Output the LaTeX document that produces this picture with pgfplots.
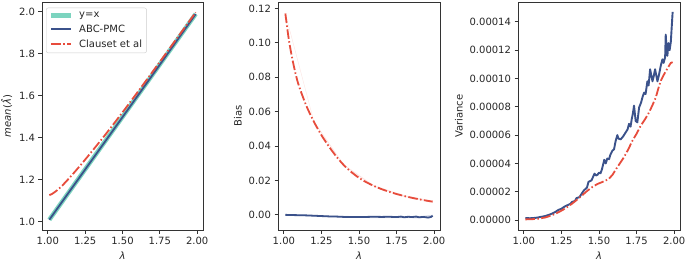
\documentclass[border=0pt]{standalone}
\usepackage{fontspec}
\setmainfont{DejaVu Sans}
\usepackage{pgfplots}
\usepackage{pgfplotstable}
\pgfplotsset{compat=1.18}
\definecolor{tealx}{RGB}{102,205,180}
\definecolor{abc}{RGB}{59,82,139}
\definecolor{cls}{RGB}{231,76,60}
\pgfplotsset{
 base/.style={
  scale only axis, width=161pt, height=228pt,
  font=\fontsize{10}{12}\selectfont,
  /pgf/number format/assume math mode=true,
  axis line style={black!80, line width=0.8pt},
  every tick/.style={black!80, line width=0.8pt},
  major tick length=3.5pt,
  tick align=outside,
  xtick pos=bottom, ytick pos=left,
  xmin=0.961, xmax=2.039,
  xtick={1,1.25,1.5,1.75,2},
  xticklabel style={/pgf/number format/fixed, /pgf/number format/fixed zerofill, /pgf/number format/precision=2},
  scaled x ticks=false, scaled y ticks=false,
  xlabel={\itshape λ},
  ticklabel style={text=black!85},
  label style={text=black!85},
 },
 dd/.style={cls, line width=1.8pt, dash pattern=on 9.6pt off 2.4pt on 1.5pt off 2.4pt},
 bl/.style={abc, line width=1.8pt, line join=round},
}
\pgfplotstableread{
lam bias
1.01 0.1170
1.03 0.1037
1.05 0.0934
1.075 0.0831
1.10 0.0750
1.15 0.0633
1.20 0.0541
1.25 0.0463
1.30 0.0397
1.35 0.0338
1.40 0.0288
1.45 0.0248
1.50 0.0215
1.55 0.0189
1.60 0.01674
1.65 0.01496
1.70 0.01343
1.75 0.01212
1.80 0.01097
1.85 0.00995
1.90 0.00905
1.95 0.00825
1.99 0.00768
}\clauset
\begin{document}
\begin{tikzpicture}
\useasboundingbox (0,0) rectangle (685pt,260pt);
% ---------- Panel 1
\begin{axis}[base, at={(42pt,30pt)}, anchor=south west,
  ymin=0.961, ymax=2.047,
  ytick={1,1.2,1.4,1.6,1.8,2},
  yticklabel style={/pgf/number format/fixed, /pgf/number format/fixed zerofill, /pgf/number format/precision=1},
  ylabel={\itshape mean\upshape(\itshape\^{λ}\upshape)},
  legend style={at={(0.025,0.975)}, anchor=north west, draw=black!20, rounded corners=2pt,
    fill=white, fill opacity=0.8, text opacity=1, font=\fontsize{10}{12}\selectfont,
    inner xsep=3pt, inner ysep=2.5pt, row sep=3pt, text=black!85,
    nodes={inner sep=1.5pt},
    /tikz/every odd column/.append style={column sep=4pt}},
  legend cell align=left,
  legend image code/.code={\draw[#1] (0pt,0pt) -- (20pt,0pt);},
]
\addplot[tealx, line width=4.5pt, opacity=0.85] coordinates {(1.01,1.01) (1.99,1.99)};
\addlegendentry{y=x}
\addplot[bl] coordinates {(1.01,1.01) (1.25,1.2493) (1.5,1.4987) (1.75,1.7487) (1.99,1.9895)};
\addlegendentry{ABC-PMC}
\addplot[dd, smooth, tension=0.5] table[x=lam, y expr=\thisrow{lam}+\thisrow{bias}] {\clauset};
\addlegendentry{Clauset et al}
\end{axis}
% ---------- Panel 2
\begin{axis}[base, at={(278pt,30pt)}, anchor=south west, width=162pt,
  ymin=-0.0088, ymax=0.1237,
  ytick={0,0.02,0.04,0.06,0.08,0.10,0.12},
  yticklabel style={/pgf/number format/fixed, /pgf/number format/fixed zerofill, /pgf/number format/precision=2},
  ylabel={Bias},
]
\addplot[fill=abc, draw=none, opacity=0.2] coordinates {
(1.01,0.0004) (1.25,-0.0003) (1.5,-0.0008) (1.75,-0.0007) (1.9,-0.0008) (1.99,0.0001)
(1.99,-0.0011) (1.9,-0.0020) (1.75,-0.0019) (1.5,-0.0018) (1.25,-0.0011) (1.01,-0.0004)} -- cycle;
\addplot[fill=cls, draw=none, opacity=0.15] coordinates {
(1.01,0.1175) (1.2,0.0545) (1.4,0.0292) (1.6,0.0171) (1.8,0.0114) (1.99,0.0082)
(1.99,0.0071) (1.8,0.0105) (1.6,0.0164) (1.4,0.0284) (1.2,0.0537) (1.01,0.1165)} -- cycle;
\addplot[bl] coordinates {
(1.01,0.0000) (1.05,-0.0001) (1.10,-0.0002) (1.15,-0.0003) (1.20,-0.0005) (1.25,-0.0007)
(1.30,-0.0009) (1.35,-0.0010) (1.40,-0.0012) (1.45,-0.0013) (1.50,-0.0013) (1.55,-0.0012)
(1.60,-0.0011) (1.65,-0.0012) (1.70,-0.0011) (1.75,-0.0013) (1.78,-0.0010) (1.80,-0.0014)
(1.83,-0.0011) (1.85,-0.0013) (1.88,-0.0010) (1.90,-0.0014) (1.93,-0.0012) (1.96,-0.0016)
(1.98,-0.0012) (1.99,-0.0005)};
\addplot[dd, smooth, tension=0.5] table[x=lam, y=bias] {\clauset};
\end{axis}
% ---------- Panel 3
\begin{axis}[base, at={(518pt,30pt)}, anchor=south west, width=162pt,
  ymin=-0.0000070, ymax=0.0001540,
  ytick={0,0.00002,0.00004,0.00006,0.00008,0.00010,0.00012,0.00014},
  yticklabels={0.00000,0.00002,0.00004,0.00006,0.00008,0.00010,0.00012,0.00014},
  ylabel={Variance},
]
\addplot[bl, line width=1.9pt] coordinates {
(1.01,0.0000015) (1.04,0.0000013) (1.08,0.0000016) (1.11,0.0000022) (1.14,0.0000028)
(1.17,0.0000038) (1.19,0.0000047) (1.21,0.0000058) (1.23,0.0000072) (1.25,0.0000080)
(1.27,0.0000095) (1.29,0.0000105) (1.31,0.0000115) (1.32,0.0000128) (1.34,0.0000135)
(1.35,0.0000155) (1.37,0.0000162) (1.39,0.0000195) (1.40,0.0000210) (1.42,0.0000230)
(1.43,0.0000270) (1.45,0.0000280) (1.47,0.0000328) (1.48,0.0000315) (1.49,0.0000320)
(1.50,0.0000335) (1.51,0.0000330) (1.52,0.0000360) (1.535,0.0000426) (1.545,0.0000400)
(1.555,0.0000435) (1.567,0.0000430) (1.575,0.0000460) (1.589,0.0000490) (1.60,0.0000500)
(1.611,0.0000560) (1.622,0.0000600) (1.63,0.0000575) (1.644,0.0000570) (1.66,0.0000590)
(1.678,0.0000620) (1.69,0.0000640) (1.70,0.0000680) (1.71,0.0000660) (1.718,0.0000714)
(1.725,0.0000750) (1.733,0.0000808) (1.744,0.0000700) (1.755,0.0000690) (1.767,0.0000796)
(1.78,0.0000830) (1.79,0.0000870) (1.80,0.0000900) (1.81,0.0000890) (1.822,0.0000980)
(1.83,0.0000950) (1.84,0.0001065) (1.856,0.0000980) (1.865,0.0001020) (1.873,0.0001065)
(1.889,0.0000980) (1.90,0.0001030) (1.911,0.0001090) (1.922,0.0001135) (1.93,0.0001110)
(1.94,0.0001150) (1.944,0.0001310) (1.95,0.0001200) (1.955,0.0001160) (1.962,0.0001250)
(1.97,0.0001200) (1.978,0.0001260) (1.99,0.0001470)};
\addplot[dd] coordinates {
(1.01,0.0000005) (1.05,0.0000006) (1.10,0.0000010) (1.144,0.0000019) (1.189,0.0000035)
(1.22,0.0000050) (1.256,0.0000070) (1.29,0.0000093) (1.322,0.0000117) (1.355,0.0000145)
(1.389,0.0000176) (1.42,0.0000205) (1.456,0.0000234) (1.49,0.0000255) (1.522,0.0000269)
(1.545,0.0000280) (1.567,0.0000293) (1.59,0.0000320) (1.622,0.0000374) (1.645,0.0000410)
(1.667,0.0000445) (1.695,0.0000500) (1.722,0.0000560) (1.75,0.0000610) (1.778,0.0000667)
(1.805,0.0000710) (1.833,0.0000760) (1.855,0.0000810) (1.878,0.0000866) (1.895,0.0000930)
(1.911,0.0000983) (1.928,0.0001020) (1.944,0.0001050) (1.96,0.0001080) (1.978,0.0001110)
(1.99,0.0001115)};
\end{axis}
\end{tikzpicture}
\end{document}
